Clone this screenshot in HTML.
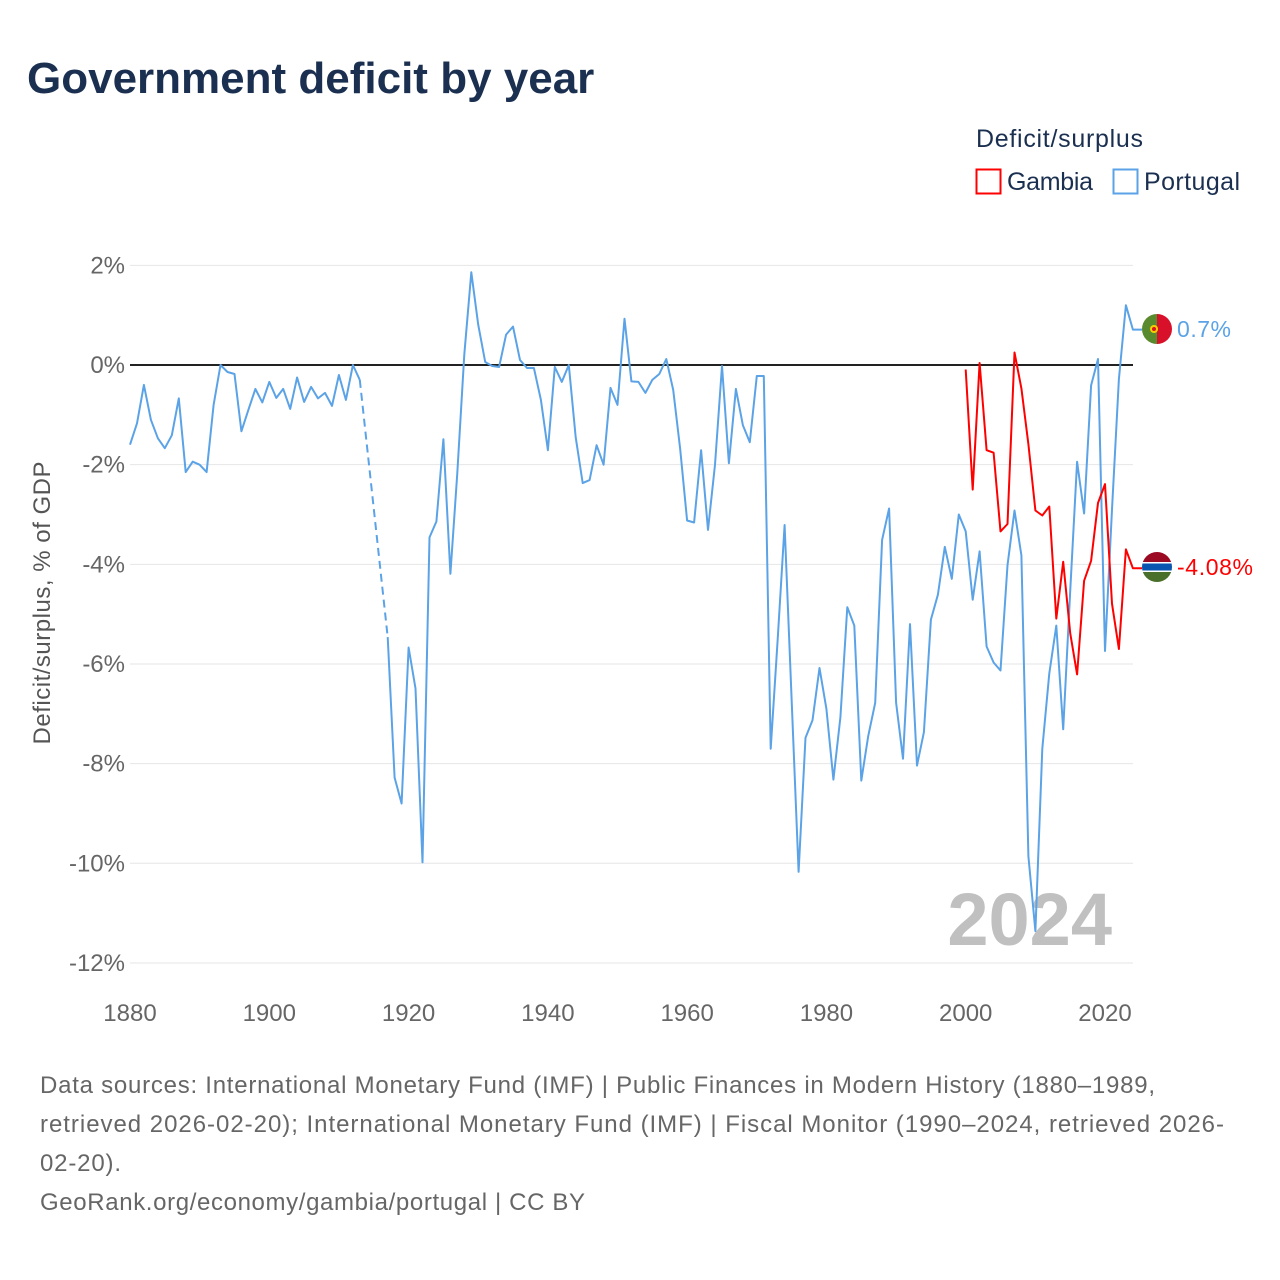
<!DOCTYPE html>
<html><head><meta charset="utf-8"><style>
body{margin:0;background:#fff;width:1280px;height:1280px;overflow:hidden;font-family:"Liberation Sans",sans-serif;}
svg{display:block}
</style></head><body>
<svg id="chart" width="1280" height="1280">
<text x="27" y="93" font-size="44" font-weight="bold" fill="#1b3050">Government deficit by year</text>
<text x="976" y="147" font-size="25" fill="#1b3050" textLength="167">Deficit/surplus</text>
<g>
<rect x="976.5" y="169.5" width="24" height="24" fill="none" stroke="#ff0000" stroke-width="2"/>
<text x="1007" y="190" font-size="25" fill="#1b3050" textLength="86">Gambia</text></g>
<g>
<rect x="1113.5" y="169.5" width="24" height="24" fill="none" stroke="#5ba3e6" stroke-width="2"/>
<text x="1144" y="190" font-size="25" fill="#1b3050" textLength="96">Portugal</text></g>
<g id="grid"></g><g id="yticks"></g><g id="xticks"></g>
<text x="1112" y="945" font-size="74" font-weight="bold" fill="#c0c0c0" text-anchor="end">2024</text>
<g id="series"></g>
<text transform="translate(50,603) rotate(-90)" font-size="24" fill="#555" text-anchor="middle" textLength="283">Deficit/surplus, % of GDP</text>
<g>
<path d="M1157,314 A15,15 0 0 0 1157,344 Z" fill="#5a8a2e"/><path d="M1157,314 A15,15 0 0 1 1157,344 Z" fill="#d8102a"/>
<circle cx="1154" cy="329" r="4" fill="#f5d000"/><circle cx="1154" cy="329" r="2" fill="#d8102a"/></g>
<g>
<clipPath id="gc"><circle cx="1157" cy="567" r="15"/></clipPath>
<g clip-path="url(#gc)"><rect x="1142" y="552" width="30" height="10" fill="#9b0a22"/><rect x="1142" y="562" width="30" height="10" fill="#fff"/><rect x="1142" y="563.5" width="30" height="7" fill="#0a55b0"/><rect x="1142" y="572" width="30" height="10" fill="#4a6f2a"/></g></g>
<text x="1177" y="337" font-size="23" fill="#5ba3e6" textLength="54">0.7%</text>
<text x="1177" y="575" font-size="23" fill="#ff0000" textLength="76">-4.08%</text>
<g font-size="24" fill="#666">
<text x="40" y="1093" textLength="1115">Data sources: International Monetary Fund (IMF) | Public Finances in Modern History (1880–1989,</text>
<text x="40" y="1132" textLength="1184">retrieved 2026-02-20); International Monetary Fund (IMF) | Fiscal Monitor (1990–2024, retrieved 2026-</text>
<text x="40" y="1171" textLength="81">02-20).</text>
<text x="40" y="1210" textLength="545">GeoRank.org/economy/gambia/portugal | CC BY</text></g>
</svg>
<script>
const yTicks=[2,0,-2,-4,-6,-8,-10,-12];
const xTicks=[1880,1900,1920,1940,1960,1980,2000,2020];
const portugalYearsA=[1880,1881,1882,1883,1884,1885,1886,1887,1888,1889,1890,1891,1892,1893,1894,1895,1896,1897,1898,1899,1900,1901,1902,1903,1904,1905,1906,1907,1908,1909,1910,1911,1912,1913];
const portugalValuesA=[-1.6,-1.17,-0.4,-1.1,-1.47,-1.67,-1.41,-0.67,-2.15,-1.94,-2.0,-2.15,-0.8,0,-0.14,-0.18,-1.33,-0.9,-0.48,-0.75,-0.34,-0.66,-0.48,-0.88,-0.25,-0.74,-0.44,-0.67,-0.56,-0.82,-0.2,-0.7,0.0,-0.3];
const portugalValuesB=[-5.46,-8.28,-8.8,-5.67,-6.49,-9.98,-3.46,-3.14,-1.49,-4.19,-2.17,0.21,1.86,0.81,0.06,-0.02,-0.04,0.61,0.77,0.1,-0.06,-0.06,-0.7,-1.71,-0.04,-0.34,0.0,-1.45,-2.37,-2.31,-1.61,-2.0,-0.46,-0.8,0.93,-0.33,-0.34,-0.56,-0.3,-0.18,0.12,-0.5,-1.69,-3.12,-3.16,-1.71,-3.31,-2.0,-0.02,-1.97,-0.48,-1.21,-1.55,-0.22,-0.22,-7.7,-5.5,-3.21,-6.7,-10.17,-7.48,-7.13,-6.08,-6.9,-8.32,-7.07,-4.86,-5.23,-8.34,-7.45,-6.78,-3.51,-2.88,-6.78,-7.9,-5.2,-8.04,-7.37,-5.11,-4.61,-3.65,-4.29,-3.0,-3.34,-4.71,-3.74,-5.65,-5.97,-6.13,-4.02,-2.92,-3.82,-9.86,-11.36,-7.7,-6.19,-5.23,-7.31,-4.54,-1.94,-2.98,-0.41,0.12,-5.74,-2.9,-0.28,1.2,0.71];
const portugalStartB=1917;
const gambiaStart=2000;
const gambiaValues=[-0.09,-2.5,0.04,-1.71,-1.76,-3.34,-3.19,0.25,-0.47,-1.59,-2.92,-3.02,-2.84,-5.09,-3.95,-5.38,-6.21,-4.33,-3.93,-2.77,-2.39,-4.79,-5.7,-3.7,-4.08];

const NS='http://www.w3.org/2000/svg';
const X=y=>130+(y-1880)*975/140;
const Y=v=>365-v*49.83;
function mk(tag,attrs,parent){const e=document.createElementNS(NS,tag);for(const k in attrs)e.setAttribute(k,attrs[k]);parent.appendChild(e);return e;}
const grid=document.getElementById('grid'),yt=document.getElementById('yticks'),xt=document.getElementById('xticks'),ser=document.getElementById('series');
yTicks.forEach(t=>{
 const l=mk('line',{x1:130,x2:1133,y1:Y(t),y2:Y(t),stroke:t===0?'#222':'#e6e6e6','stroke-width':t===0?2:1},grid);
 
 
 const tx=mk('text',{x:125,y:Y(t)+8,'font-size':24,fill:'#666','text-anchor':'end'},yt);
 tx.textContent=t+'%';
 
 
});
xTicks.forEach(t=>{
 const tx=mk('text',{x:X(t),y:1021,'font-size':24,fill:'#666','text-anchor':'middle'},xt);
 tx.textContent=t;
 
 
});
function pts(start,vals){return vals.map((v,i)=>X(start+i).toFixed(1)+','+Y(v).toFixed(1));}
const pa=pts(1880,portugalValuesA),pb=pts(portugalStartB,portugalValuesB),gp=pts(gambiaStart,gambiaValues);
let e=mk('polyline',{points:pa.join(' '),fill:'none',stroke:'#5ba3e6','stroke-width':2,'stroke-linejoin':'round'},ser);


e=mk('polyline',{points:pa[pa.length-1]+' '+pb[0],fill:'none',stroke:'#5ba3e6','stroke-width':2,'stroke-dasharray':'8,5'},ser);


const lastP=portugalValuesB[portugalValuesB.length-1],lastG=gambiaValues[gambiaValues.length-1];
e=mk('polyline',{points:pb.join(' ')+' 1142,'+Y(lastP).toFixed(1),fill:'none',stroke:'#5ba3e6','stroke-width':2,'stroke-linejoin':'round'},ser);


e=mk('polyline',{points:gp.join(' ')+' 1142,'+Y(lastG).toFixed(1),fill:'none',stroke:'#ff0000','stroke-width':2,'stroke-linejoin':'round'},ser);


</script>
</body></html>
